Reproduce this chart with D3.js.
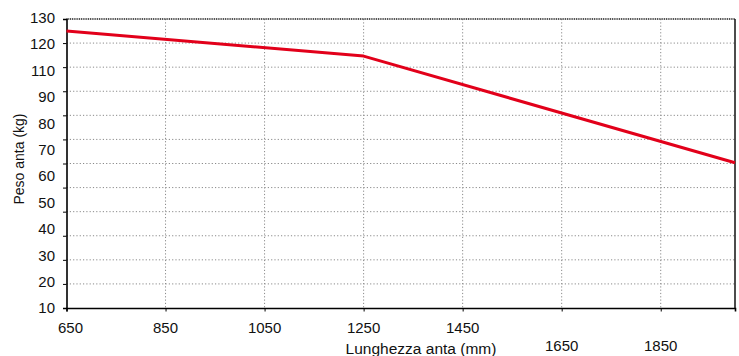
<!DOCTYPE html>
<html>
<head>
<meta charset="utf-8">
<script src="https://cdn.jsdelivr.net/npm/d3@7"></script>
<style>
  html, body { margin: 0; padding: 0; background: #fff; }
  svg { display: block; font-family: "Liberation Sans", Arial, sans-serif; }
</style>
</head>
<body>
<svg id="chart" width="739" height="356"></svg>
<script>
// Door leaf weight against leaf length
const lengths = [650, 1250, 2000];          // mm
const weights = [125, 114.6, 70.3];         // kg
const xTicks = [650, 850, 1050, 1250, 1450, 1650, 1850];
const yGrid = [10, 20, 30, 40, 50, 60, 70, 80, 90, 100, 110, 120, 130];
const yLabels = [130, 120, 110, 90, 80, 70, 60, 50, 40, 30, 20, 10];
const xDomain = [650, 2000];
const yDomain = [10, 130];

const svg = d3.select("#chart");
const m = { left: 66.5, right: 735, top: 19, bottom: 308 };

const x = d3.scaleLinear().domain(xDomain).range([m.left, m.right]);
const y = d3.scaleLinear().domain(yDomain).range([m.bottom, m.top]);
// tick labels are spread evenly along the axis
const yLab = d3.scalePoint().domain(yLabels).range([m.top - 1.5, m.bottom]);

// horizontal dotted grid
svg.append("g").selectAll("line")
  .data(yGrid.filter(v => v > yDomain[0] && v < yDomain[1]))
  .join("line")
  .attr("x1", m.left).attr("x2", m.right)
  .attr("y1", d => y(d)).attr("y2", d => y(d))
  .attr("stroke", "#8a8a8a").attr("stroke-width", 1)
  .attr("stroke-dasharray", "1.2,2.1");

// vertical dotted grid
svg.append("g").selectAll("line")
  .data(xTicks.filter(v => v > xDomain[0]))
  .join("line")
  .attr("x1", d => x(d)).attr("x2", d => x(d))
  .attr("y1", m.top).attr("y2", m.bottom)
  .attr("stroke", "#8a8a8a").attr("stroke-width", 1)
  .attr("stroke-dasharray", "1.2,2.1");

// top border
svg.append("line")
  .attr("x1", m.left).attr("x2", m.right)
  .attr("y1", m.top).attr("y2", m.top)
  .attr("stroke", "#444").attr("stroke-width", 2)
  .attr("stroke-dasharray", "1,0.8");

// right border
svg.append("line")
  .attr("x1", m.right).attr("x2", m.right)
  .attr("y1", m.top).attr("y2", m.bottom)
  .attr("stroke", "#111").attr("stroke-width", 1.5);

// y axis: ticks at grid values, labels drawn separately
const yAxis = d3.axisLeft(y).tickValues(yGrid).tickSize(3.5).tickFormat("");
const gy = svg.append("g").attr("transform", `translate(${m.left},0)`).call(yAxis);
gy.select(".domain").attr("stroke", "#000").attr("stroke-width", 1.6);
gy.selectAll(".tick line").attr("stroke", "#000").attr("stroke-width", 1);

svg.append("g").selectAll("text")
  .data(yLabels)
  .join("text")
  .attr("x", 55)
  .attr("y", d => yLab(d))
  .attr("dy", "0.36em")
  .attr("text-anchor", "end")
  .attr("font-size", 15)
  .attr("fill", "#111")
  .text(d => d);

// x axis
const xAxis = d3.axisBottom(x).tickValues(xTicks).tickSize(3.5).tickFormat("");
const gx = svg.append("g").attr("transform", `translate(0,${m.bottom})`).call(xAxis);
gx.select(".domain").attr("stroke", "#000").attr("stroke-width", 1.6);
gx.selectAll(".tick line").attr("stroke", "#000").attr("stroke-width", 1);

svg.append("g").selectAll("text")
  .data(xTicks)
  .join("text")
  .attr("x", d => x(d) + (d === xTicks[0] ? 4 : 0))
  .attr("y", d => d > 1500 ? 351 : 333)
  .attr("text-anchor", "middle")
  .attr("font-size", 15)
  .attr("fill", "#111")
  .text(d => d);

// axis titles
svg.append("text")
  .attr("x", 421).attr("y", 354)
  .attr("text-anchor", "middle")
  .attr("font-size", 15.5)
  .attr("fill", "#111")
  .text("Lunghezza anta (mm)");

svg.append("text")
  .attr("transform", "translate(23.5,159) rotate(-90)")
  .attr("text-anchor", "middle")
  .attr("font-size", 14)
  .attr("fill", "#111")
  .text("Peso anta (kg)");

// weight curve
const pts = lengths.map((l, i) => [l, weights[i]]);
svg.append("path")
  .datum(pts)
  .attr("fill", "none")
  .attr("stroke", "#e2001a")
  .attr("stroke-width", 3)
  .attr("stroke-linejoin", "round")
  .attr("d", d3.line().x(d => x(d[0])).y(d => y(d[1])));
</script>
</body>
</html>
